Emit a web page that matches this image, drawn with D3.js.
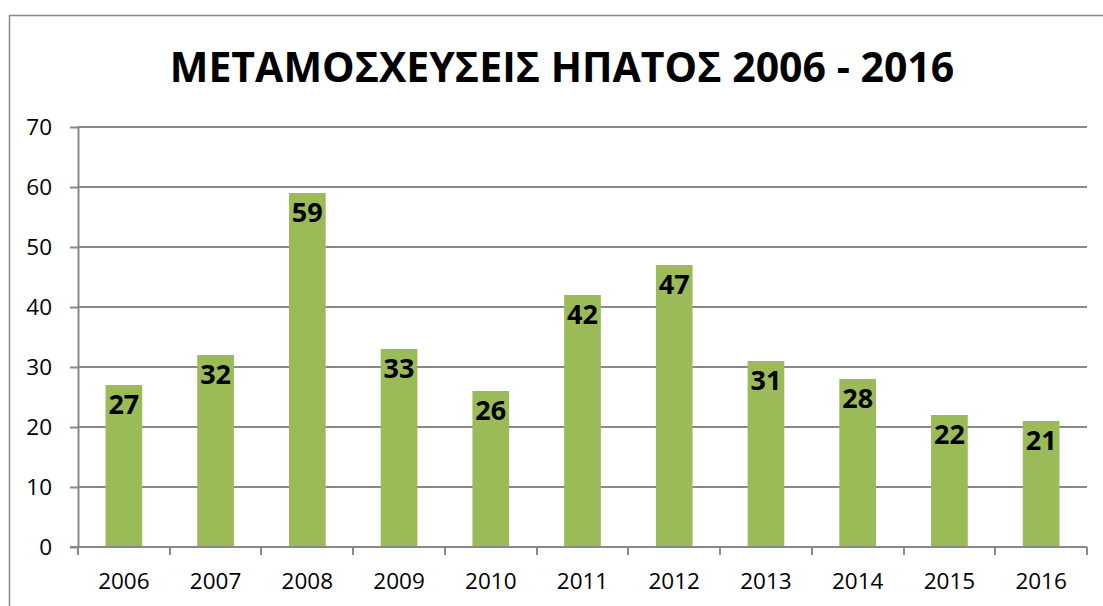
<!DOCTYPE html>
<html><head><meta charset="utf-8">
<script src="https://cdn.jsdelivr.net/npm/d3@7"></script>
<style>body{margin:0;background:#fff;} svg{display:block;}</style>
</head><body>
<script>
const title = "ΜΕΤΑΜΟΣΧΕΥΣΕΙΣ ΗΠΑΤΟΣ 2006 - 2016";
const years = ["2006","2007","2008","2009","2010","2011","2012","2013","2014","2015","2016"];
const values = [27,32,59,33,26,42,47,31,28,22,21];
const yTicks = [0,10,20,30,40,50,60,70];

(function(){
const W = 1103, H = 606;
const svg = d3.select("body").append("svg").attr("width", W).attr("height", H);
const font = "'Open Sans', sans-serif";
const grey = "#898989";
const sw = 2;

svg.append("rect").attr("x",9.5).attr("y",15.5).attr("width",1200).attr("height",700)
  .attr("fill","none").attr("stroke",grey).attr("stroke-width",1.5);

const pL = 78, pR = 1087, pT = 127, pB = 547;
const x = d3.scaleBand().domain(years).range([pL,pR]).paddingInner(0.6).paddingOuter(0.3);
const y = d3.scaleLinear().domain([0,70]).range([pB,pT]);

// gridlines
svg.append("g").selectAll("line").data(yTicks.filter(t=>t>0)).join("line")
  .attr("x1",pL).attr("x2",pR)
  .attr("y1",d=>Math.round(y(d))).attr("y2",d=>Math.round(y(d)))
  .attr("stroke",grey).attr("stroke-width",sw);

// y axis
const yAxis = d3.axisLeft(y).tickValues(yTicks).tickSize(8).tickPadding(18).tickSizeOuter(0);
const gy = svg.append("g").attr("transform",`translate(${pL},0)`).call(yAxis);
gy.selectAll("path,line").attr("stroke",grey).attr("stroke-width",sw);
gy.selectAll("text").attr("font-family",font).attr("font-size",22.5).attr("fill","#000");

// x axis: tick marks at band boundaries
const bounds = years.map((d,i)=> pL + i*x.step());
bounds.push(pR);
const gx = svg.append("g");
gx.append("line").attr("x1",pL-8).attr("x2",pR).attr("y1",pB).attr("y2",pB).attr("stroke",grey).attr("stroke-width",sw);
gx.selectAll("line.t").data(bounds).join("line").attr("class","t")
  .attr("x1",d=>Math.round(d)).attr("x2",d=>Math.round(d))
  .attr("y1",pB).attr("y2",pB+8).attr("stroke",grey).attr("stroke-width",sw);
gx.selectAll("text").data(years).join("text")
  .attr("x",d=>x(d)+x.bandwidth()/2).attr("y",589)
  .attr("text-anchor","middle").attr("font-family",font).attr("font-size",22.5).attr("fill","#000")
  .text(d=>d);

// bars
const data = years.map((d,i)=>({year:d,value:values[i]}));
svg.append("g").selectAll("rect").data(data).join("rect")
  .attr("x",d=>x(d.year)).attr("width",x.bandwidth())
  .attr("y",d=>y(d.value)).attr("height",d=>y(0)-y(d.value)-1)
  .attr("fill","#9BBB59");

// labels
svg.append("g").selectAll("text").data(data).join("text")
  .attr("x",d=>x(d.year)+x.bandwidth()/2).attr("y",d=>y(d.value)+28.5)
  .attr("text-anchor","middle").attr("font-family",font).attr("font-weight","bold")
  .attr("font-size",27).attr("fill","#000").text(d=>d.value);

// title
svg.append("text").attr("x",562).attr("y",82).attr("text-anchor","middle")
  .attr("font-family",font).attr("font-weight","bold").attr("font-size",41).attr("fill","#000")
  .text(title);
})();
</script>
</body></html>
